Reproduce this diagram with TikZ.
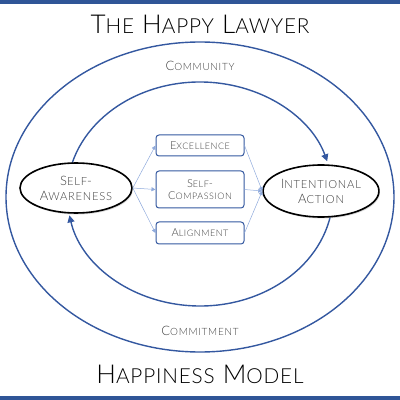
\documentclass[tikz,border=0pt]{standalone}
\usepackage{fontspec}
\setmainfont{Lato Light}
\usepackage{relsize}
\usetikzlibrary{shapes.geometric,shadows,arrows.meta}
\definecolor{bandblue}{RGB}{47,85,151}
\definecolor{lineblue}{RGB}{52,88,160}
\definecolor{thinblue}{RGB}{143,170,220}
\definecolor{txtgray}{RGB}{64,64,64}
\newcommand\fscratio{0.78}
\newcommand\fsc[2]{#1\textscale{\fscratio}{#2}}
\begin{document}
\begin{tikzpicture}[x=1pt,y=1pt,
    ring/.style={draw=lineblue,line width=1.4pt},
    loop/.style={ring,-{Triangle[width=7pt,length=7pt]}},
    pillar/.style={draw=lineblue,line width=1pt,rounded corners=3pt,fill=white,
      minimum width=88pt,text=txtgray,align=center,
      font=\fontsize{11}{12}\selectfont\addfontfeatures{LetterSpace=6}\renewcommand\fscratio{0.84}},
    stage/.style={ellipse,draw=black,line width=1.6pt,fill=white,text=txtgray,align=center,
      font=\fontsize{13}{15}\selectfont\addfontfeatures{LetterSpace=7}\renewcommand\fscratio{0.86},
      drop shadow={shadow xshift=1pt,shadow yshift=-1.5pt,fill=gray!60}},
    link/.style={draw=thinblue,line width=0.5pt,-{Triangle[width=4pt,length=4pt]}},
    ringlabel/.style={text=txtgray,
      font=\fontsize{13}{15}\selectfont\addfontfeatures{LetterSpace=7}\renewcommand\fscratio{0.8}},
    title/.style={text=black,
      font=\fontsize{26}{28}\selectfont\addfontfeatures{LetterSpace=4}}]
    \useasboundingbox (0,0) rectangle (400,400);
    \fill[bandblue] (0,396) rectangle (400,400);
    \fill[bandblue] (0,0) rectangle (400,4);

    % rings
    \draw[ring] (200,203) ellipse[x radius=194,y radius=155];
    \draw[loop] ([shift={(170:133 and 112)}]200,206) arc[start angle=170,end angle=17,x radius=133,y radius=112];
    \draw[loop] ([shift={(-8:133 and 112)}]200,206) arc[start angle=-8,end angle=-169,x radius=133,y radius=112];

    \node[title] (top) at (200,376) {\fsc{T}{HE} \fsc{H}{APPY} \fsc{L}{AWYER}};
    \node[title] (bottom) at (200,26) {\fsc{H}{APPINESS} \fsc{M}{ODEL}};
    \node[ringlabel] (community) at (200,334) {\fsc{C}{OMMUNITY}};
    \node[ringlabel] (commitment) at (200,69) {\fsc{C}{OMMITMENT}};

    \node[stage,minimum width=112pt,minimum height=50pt,inner sep=1pt] (aware) at (76,212) {\fsc{S}{ELF}-\\\fsc{A}{WARENESS}};
    \node[stage,minimum width=114pt,minimum height=52pt,inner sep=1pt] (action) at (321,209) {\fsc{I}{NTENTIONAL}\\\fsc{A}{CTION}};

    \node[pillar,minimum height=21pt] (excel) at (200,254.5) {\fsc{E}{XCELLENCE}};
    \node[pillar,minimum height=37pt] (compassion) at (200,210.5) {\fsc{S}{ELF}-\\\fsc{C}{OMPASSION}};
    \node[pillar,minimum height=22pt] (align) at (200,167) {\fsc{A}{LIGNMENT}};

    \draw[link] (aware.east) -- (excel.west);
    \draw[link] (aware.east) -- (compassion.west);
    \draw[link] (aware.east) -- (align.west);
    \draw[link] (excel.east) -- (action.west);
    \draw[link] (compassion.east) -- (action.west);
    \draw[link] (align.east) -- (action.west);
\end{tikzpicture}
\end{document}
